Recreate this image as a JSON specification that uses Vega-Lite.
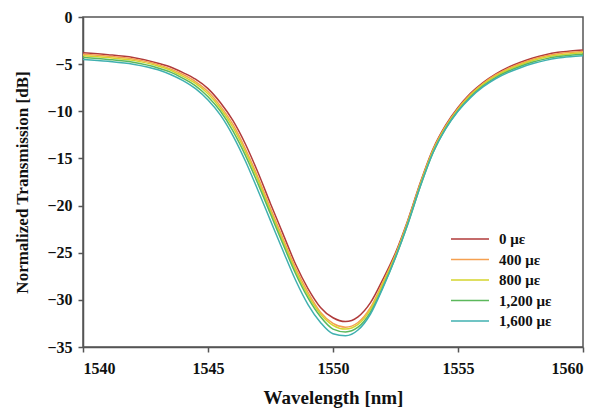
{
  "$schema": "https://vega.github.io/schema/vega-lite/v6.json",
  "autosize": "none",
  "width": 500,
  "height": 330,
  "padding": {"left": 83, "top": 17, "right": 33, "bottom": 70},
  "background": "white",
  "config": {
    "view": {"stroke": "#555555", "strokeWidth": 1.5},
    "font": "Liberation Serif"
  },
  "datasets": {
    "curves": [
      {"s":"0 με","x":1540,"y":-3.8},{"s":"0 με","x":1541,"y":-4.0},{"s":"0 με","x":1542,"y":-4.3},{"s":"0 με","x":1543,"y":-4.9},{"s":"0 με","x":1543.5,"y":-5.3},{"s":"0 με","x":1544,"y":-5.9},{"s":"0 με","x":1544.5,"y":-6.6},{"s":"0 με","x":1545,"y":-7.6},{"s":"0 με","x":1545.5,"y":-9.1},{"s":"0 με","x":1546,"y":-11.0},{"s":"0 με","x":1546.5,"y":-13.5},{"s":"0 με","x":1547,"y":-16.5},{"s":"0 με","x":1547.5,"y":-19.8},{"s":"0 με","x":1548,"y":-23.0},{"s":"0 με","x":1548.5,"y":-26.2},{"s":"0 με","x":1549,"y":-28.8},{"s":"0 με","x":1549.5,"y":-30.8},{"s":"0 με","x":1550,"y":-31.9},{"s":"0 με","x":1550.5,"y":-32.3},{"s":"0 με","x":1551,"y":-31.8},{"s":"0 με","x":1551.5,"y":-30.3},{"s":"0 με","x":1552,"y":-27.8},{"s":"0 με","x":1552.5,"y":-25.0},{"s":"0 με","x":1553,"y":-21.5},{"s":"0 με","x":1553.5,"y":-17.5},{"s":"0 με","x":1554,"y":-14.0},{"s":"0 με","x":1554.5,"y":-11.5},{"s":"0 με","x":1555,"y":-9.6},{"s":"0 με","x":1555.5,"y":-8.1},{"s":"0 με","x":1556,"y":-6.95},{"s":"0 με","x":1556.5,"y":-6.05},{"s":"0 με","x":1557,"y":-5.35},{"s":"0 με","x":1557.5,"y":-4.8},{"s":"0 με","x":1558,"y":-4.35},{"s":"0 με","x":1558.5,"y":-4.0},{"s":"0 με","x":1559,"y":-3.75},{"s":"0 με","x":1559.5,"y":-3.6},{"s":"0 με","x":1560,"y":-3.5},
      {"s":"400 με","x":1540,"y":-3.95},{"s":"400 με","x":1541,"y":-4.15},{"s":"400 με","x":1542,"y":-4.45},{"s":"400 με","x":1543,"y":-5.05},{"s":"400 με","x":1543.5,"y":-5.5},{"s":"400 με","x":1544,"y":-6.1},{"s":"400 με","x":1544.5,"y":-6.85},{"s":"400 με","x":1545,"y":-7.9},{"s":"400 με","x":1545.5,"y":-9.45},{"s":"400 με","x":1546,"y":-11.4},{"s":"400 με","x":1546.5,"y":-14.0},{"s":"400 με","x":1547,"y":-17.0},{"s":"400 με","x":1547.5,"y":-20.3},{"s":"400 με","x":1548,"y":-23.5},{"s":"400 με","x":1548.5,"y":-26.6},{"s":"400 με","x":1549,"y":-29.2},{"s":"400 με","x":1549.5,"y":-31.3},{"s":"400 με","x":1550,"y":-32.5},{"s":"400 με","x":1550.5,"y":-32.9},{"s":"400 με","x":1551,"y":-32.4},{"s":"400 με","x":1551.5,"y":-30.8},{"s":"400 με","x":1552,"y":-28.1},{"s":"400 με","x":1552.5,"y":-25.2},{"s":"400 με","x":1553,"y":-21.6},{"s":"400 με","x":1553.5,"y":-17.6},{"s":"400 με","x":1554,"y":-14.1},{"s":"400 με","x":1554.5,"y":-11.6},{"s":"400 με","x":1555,"y":-9.7},{"s":"400 με","x":1555.5,"y":-8.2},{"s":"400 με","x":1556,"y":-7.05},{"s":"400 με","x":1556.5,"y":-6.15},{"s":"400 με","x":1557,"y":-5.47},{"s":"400 με","x":1557.5,"y":-4.93},{"s":"400 με","x":1558,"y":-4.48},{"s":"400 με","x":1558.5,"y":-4.14},{"s":"400 με","x":1559,"y":-3.9},{"s":"400 με","x":1559.5,"y":-3.75},{"s":"400 με","x":1560,"y":-3.65},
      {"s":"800 με","x":1540,"y":-4.1},{"s":"800 με","x":1541,"y":-4.3},{"s":"800 με","x":1542,"y":-4.6},{"s":"800 με","x":1543,"y":-5.2},{"s":"800 με","x":1543.5,"y":-5.65},{"s":"800 με","x":1544,"y":-6.3},{"s":"800 με","x":1544.5,"y":-7.05},{"s":"800 με","x":1545,"y":-8.15},{"s":"800 με","x":1545.5,"y":-9.7},{"s":"800 με","x":1546,"y":-11.7},{"s":"800 με","x":1546.5,"y":-14.3},{"s":"800 με","x":1547,"y":-17.3},{"s":"800 με","x":1547.5,"y":-20.6},{"s":"800 με","x":1548,"y":-23.8},{"s":"800 με","x":1548.5,"y":-26.9},{"s":"800 με","x":1549,"y":-29.5},{"s":"800 με","x":1549.5,"y":-31.5},{"s":"800 με","x":1550,"y":-32.7},{"s":"800 με","x":1550.5,"y":-33.1},{"s":"800 με","x":1551,"y":-32.6},{"s":"800 με","x":1551.5,"y":-31.0},{"s":"800 με","x":1552,"y":-28.3},{"s":"800 με","x":1552.5,"y":-25.3},{"s":"800 με","x":1553,"y":-21.7},{"s":"800 με","x":1553.5,"y":-17.7},{"s":"800 με","x":1554,"y":-14.2},{"s":"800 με","x":1554.5,"y":-11.7},{"s":"800 με","x":1555,"y":-9.8},{"s":"800 με","x":1555.5,"y":-8.3},{"s":"800 με","x":1556,"y":-7.15},{"s":"800 με","x":1556.5,"y":-6.27},{"s":"800 με","x":1557,"y":-5.6},{"s":"800 με","x":1557.5,"y":-5.07},{"s":"800 με","x":1558,"y":-4.62},{"s":"800 με","x":1558.5,"y":-4.28},{"s":"800 με","x":1559,"y":-4.04},{"s":"800 με","x":1559.5,"y":-3.9},{"s":"800 με","x":1560,"y":-3.8},
      {"s":"1,200 με","x":1540,"y":-4.3},{"s":"1,200 με","x":1541,"y":-4.5},{"s":"1,200 με","x":1542,"y":-4.8},{"s":"1,200 με","x":1543,"y":-5.4},{"s":"1,200 με","x":1543.5,"y":-5.85},{"s":"1,200 με","x":1544,"y":-6.5},{"s":"1,200 με","x":1544.5,"y":-7.3},{"s":"1,200 με","x":1545,"y":-8.45},{"s":"1,200 με","x":1545.5,"y":-10.0},{"s":"1,200 με","x":1546,"y":-12.1},{"s":"1,200 με","x":1546.5,"y":-14.7},{"s":"1,200 με","x":1547,"y":-17.7},{"s":"1,200 με","x":1547.5,"y":-20.9},{"s":"1,200 με","x":1548,"y":-24.1},{"s":"1,200 με","x":1548.5,"y":-27.2},{"s":"1,200 με","x":1549,"y":-29.8},{"s":"1,200 με","x":1549.5,"y":-31.8},{"s":"1,200 με","x":1550,"y":-33.1},{"s":"1,200 με","x":1550.5,"y":-33.4},{"s":"1,200 με","x":1551,"y":-32.9},{"s":"1,200 με","x":1551.5,"y":-31.3},{"s":"1,200 με","x":1552,"y":-28.6},{"s":"1,200 με","x":1552.5,"y":-25.5},{"s":"1,200 με","x":1553,"y":-21.9},{"s":"1,200 με","x":1553.5,"y":-17.9},{"s":"1,200 με","x":1554,"y":-14.4},{"s":"1,200 με","x":1554.5,"y":-11.85},{"s":"1,200 με","x":1555,"y":-9.95},{"s":"1,200 με","x":1555.5,"y":-8.45},{"s":"1,200 με","x":1556,"y":-7.3},{"s":"1,200 με","x":1556.5,"y":-6.42},{"s":"1,200 με","x":1557,"y":-5.76},{"s":"1,200 με","x":1557.5,"y":-5.23},{"s":"1,200 με","x":1558,"y":-4.78},{"s":"1,200 με","x":1558.5,"y":-4.44},{"s":"1,200 με","x":1559,"y":-4.2},{"s":"1,200 με","x":1559.5,"y":-4.05},{"s":"1,200 με","x":1560,"y":-3.95},
      {"s":"1,600 με","x":1540,"y":-4.5},{"s":"1,600 με","x":1541,"y":-4.7},{"s":"1,600 με","x":1542,"y":-5.0},{"s":"1,600 με","x":1543,"y":-5.6},{"s":"1,600 με","x":1543.5,"y":-6.1},{"s":"1,600 με","x":1544,"y":-6.75},{"s":"1,600 με","x":1544.5,"y":-7.6},{"s":"1,600 με","x":1545,"y":-8.8},{"s":"1,600 με","x":1545.5,"y":-10.4},{"s":"1,600 με","x":1546,"y":-12.6},{"s":"1,600 με","x":1546.5,"y":-15.3},{"s":"1,600 με","x":1547,"y":-18.4},{"s":"1,600 με","x":1547.5,"y":-21.6},{"s":"1,600 με","x":1548,"y":-24.8},{"s":"1,600 με","x":1548.5,"y":-27.9},{"s":"1,600 με","x":1549,"y":-30.5},{"s":"1,600 με","x":1549.5,"y":-32.4},{"s":"1,600 με","x":1550,"y":-33.6},{"s":"1,600 με","x":1550.5,"y":-33.8},{"s":"1,600 με","x":1551,"y":-33.2},{"s":"1,600 με","x":1551.5,"y":-31.5},{"s":"1,600 με","x":1552,"y":-28.7},{"s":"1,600 με","x":1552.5,"y":-25.5},{"s":"1,600 με","x":1553,"y":-21.9},{"s":"1,600 με","x":1553.5,"y":-17.9},{"s":"1,600 με","x":1554,"y":-14.4},{"s":"1,600 με","x":1554.5,"y":-11.9},{"s":"1,600 με","x":1555,"y":-10.0},{"s":"1,600 με","x":1555.5,"y":-8.55},{"s":"1,600 με","x":1556,"y":-7.42},{"s":"1,600 με","x":1556.5,"y":-6.55},{"s":"1,600 με","x":1557,"y":-5.9},{"s":"1,600 με","x":1557.5,"y":-5.38},{"s":"1,600 με","x":1558,"y":-4.94},{"s":"1,600 με","x":1558.5,"y":-4.6},{"s":"1,600 με","x":1559,"y":-4.36},{"s":"1,600 με","x":1559.5,"y":-4.21},{"s":"1,600 με","x":1560,"y":-4.1}
    ]
  },
  "data": {"name": "curves"},
  "mark": {"type": "line", "interpolate": "monotone", "strokeWidth": 1.5},
  "encoding": {
    "x": {
      "field": "x", "type": "quantitative",
      "scale": {"domain": [1540, 1560], "nice": false, "zero": false},
      "axis": {
        "values": [1540, 1545, 1550, 1555, 1560], "format": "d",
        "title": "Wavelength [nm]", "grid": false,
        "domainColor": "#555555", "domainWidth": 1.5, "tickColor": "#555555", "tickWidth": 1.5, "tickSize": 5,
        "labelFont": "Liberation Serif", "labelFontWeight": "bold", "labelFontSize": 16, "labelColor": "#111111", "labelPadding": 8,
        "titleFont": "Liberation Serif", "titleFontWeight": "bold", "titleFontSize": 19, "titleColor": "#111111", "titlePadding": 12
      }
    },
    "y": {
      "field": "y", "type": "quantitative",
      "scale": {"domain": [-35, 0], "nice": false, "zero": false},
      "axis": {
        "values": [0, -5, -10, -15, -20, -25, -30, -35],
        "title": "Normalized Transmission [dB]", "grid": false,
        "domainColor": "#555555", "domainWidth": 1.5, "tickColor": "#555555", "tickWidth": 1.5, "tickSize": 5,
        "labelFont": "Liberation Serif", "labelFontWeight": "bold", "labelFontSize": 16, "labelColor": "#111111", "labelPadding": 6,
        "titleFont": "Liberation Serif", "titleFontWeight": "bold", "titleFontSize": 17, "titleColor": "#111111", "titlePadding": 15
      }
    },
    "color": {
      "field": "s", "type": "nominal",
      "scale": {
        "domain": ["0 με", "400 με", "800 με", "1,200 με", "1,600 με"],
        "range": ["#B03A3A", "#F5A050", "#D4D42C", "#5BB85B", "#40B0B0"]
      },
      "legend": {
        "title": null, "orient": "none", "legendX": 367, "legendY": 214,
        "symbolType": "stroke", "symbolStrokeWidth": 1.5, "symbolSize": 1444,
        "clipHeight": 16,
        "labelFont": "Liberation Serif", "labelFontWeight": "bold", "labelFontSize": 15, "labelColor": "#111111",
        "labelOffset": 9, "rowPadding": 4.5
      }
    }
  }
}
